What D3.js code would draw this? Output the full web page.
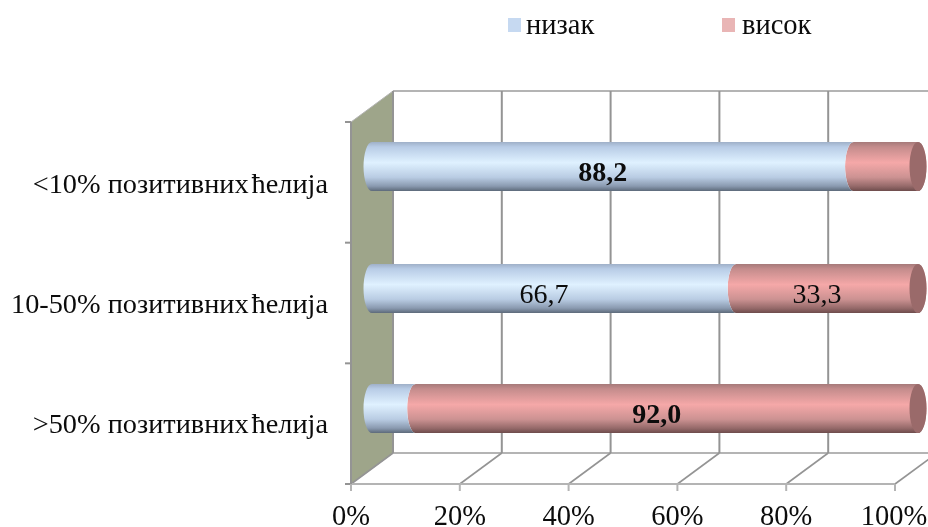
<!DOCTYPE html>
<html><head><meta charset="utf-8">
<script src="https://cdn.jsdelivr.net/npm/d3@7"></script>
<style>html,body{margin:0;padding:0;background:#fff;overflow:hidden}svg{display:block;filter:blur(0.35px)}text{font-family:"Liberation Serif",serif;fill:#0c0c0c}</style>
</head><body><svg id="c" width="928" height="527"></svg>
<script>
const categories = ["<10% позитивних ћелија","10-50% позитивних ћелија",">50% позитивних ћелија"];
const seriesNames = ["низак","висок"];
const lowValues = [88.2,66.7,8.0];
const highValues = [11.8,33.3,92.0];
const lowLabels = ["88,2","66,7",""];
const highLabels = ["","33,3","92,0"];
const boldRow = [true,false,true];
const tickValues = [0,20,40,60,80,100];
const W=928,H=527;
const svg=d3.select("#c");
const defs=svg.append("defs");
function grad(id,stops){const g=defs.append("linearGradient").attr("id",id).attr("x1",0).attr("x2",0).attr("y1",0).attr("y2",1);
 stops.forEach(s=>g.append("stop").attr("offset",s[0]).attr("stop-color",s[1]));}
grad("gLow",[[0,"#9fb0c8"],[.1,"#b8cce6"],[.42,"#dff1ff"],[.72,"#b9cce3"],[.9,"#8a9ab0"],[1,"#5d6a7a"]]);
grad("gHigh",[[0,"#a67a7a"],[.1,"#c48c8c"],[.42,"#f5a8a8"],[.72,"#cc9292"],[.9,"#966a6a"],[1,"#6e4c4c"]]);
const x0=351,x100=895,dx=42,dy=-31,yTop=122,yBot=484;
const x=d3.scaleLinear().domain([0,100]).range([x0,x100]);
const yBand=d3.scaleBand().domain(categories).range([yTop,yBot]);
const grid="#949494", gridL="#b4b4b4";
// side wall
svg.append("path").attr("d",`M${x0},${yTop}L${x0+dx},${yTop+dy}L${x0+dx},${yBot+dy}L${x0},${yBot}Z`).attr("fill","#9ea58a").attr("stroke",gridL).attr("stroke-width",1);
// back wall lines
svg.append("line").attr("x1",x0+dx).attr("x2",W).attr("y1",yTop+dy).attr("y2",yTop+dy).attr("stroke",gridL).attr("stroke-width",2);
svg.append("line").attr("x1",x0+dx).attr("x2",W).attr("y1",yBot+dy).attr("y2",yBot+dy).attr("stroke",gridL).attr("stroke-width",2);
tickValues.forEach(t=>{
 svg.append("line").attr("x1",x(t)+dx).attr("x2",x(t)+dx).attr("y1",yTop+dy).attr("y2",yBot+dy).attr("stroke",grid).attr("stroke-width",2);
 svg.append("line").attr("x1",x(t)).attr("x2",x(t)+dx).attr("y1",yBot).attr("y2",yBot+dy).attr("stroke",grid).attr("stroke-width",1.6);
});
// axes
svg.append("line").attr("x1",x0-6).attr("x2",x100).attr("y1",yBot).attr("y2",yBot).attr("stroke",gridL).attr("stroke-width",2);
svg.append("line").attr("x1",x0).attr("x2",x0).attr("y1",yTop).attr("y2",yBot+7).attr("stroke",grid).attr("stroke-width",2);
[0,1,2,3].forEach(i=>{const y=yTop+i*yBand.step();
 svg.append("line").attr("x1",x0-6).attr("x2",x0).attr("y1",y).attr("y2",y).attr("stroke",grid).attr("stroke-width",2);});
tickValues.forEach(t=>{
 svg.append("line").attr("x1",x(t)).attr("x2",x(t)).attr("y1",yBot).attr("y2",yBot+7).attr("stroke",gridL).attr("stroke-width",2);
 svg.append("text").attr("x",x(t)+ (t==100?-1:0)).attr("y",525).attr("text-anchor","middle").attr("font-size",28.5).text(t+"%");
});
// bars
const bx=d3.scaleLinear().domain([0,100]).range([372,918]);
const barH=49, rx=8.5;
const barTop=[142,264,384];
categories.forEach((c,i)=>{
 const y=barTop[i],ry=barH/2,cy=y+ry;
 const a=bx(0),b=bx(lowValues[i]),e=bx(lowValues[i]+highValues[i]);
 svg.append("path").attr("d",`M${b},${y}L${e},${y}A${rx},${ry} 0 0 1 ${e},${y+barH}L${b},${y+barH}A${rx},${ry} 0 0 1 ${b},${y}Z`).attr("fill","url(#gHigh)");
 svg.append("ellipse").attr("cx",e).attr("cy",cy).attr("rx",rx).attr("ry",ry).attr("fill","#9a6a6a");
 svg.append("path").attr("d",`M${a},${y}L${b},${y}A${rx},${ry} 0 0 0 ${b},${y+barH}L${a},${y+barH}A${rx},${ry} 0 0 1 ${a},${y}Z`).attr("fill","url(#gLow)");
 const bold=boldRow[i]?"bold":"normal";
 if(lowLabels[i]) svg.append("text").attr("x",(a+b)/2-10).attr("y",cy+14.5).attr("text-anchor","middle").attr("font-size",28).attr("font-weight",bold).text(lowLabels[i]);
 if(highLabels[i]) svg.append("text").attr("x",(b+e)/2-10).attr("y",cy+14.5).attr("text-anchor","middle").attr("font-size",28).attr("font-weight",bold).text(highLabels[i]);
 const cut=c.lastIndexOf(" ");
 const lab=svg.append("text").attr("x",328).attr("y",[193,313,433][i]).attr("text-anchor","end").attr("font-size",28.3);
 lab.append("tspan").text(c.slice(0,cut));
 lab.append("tspan").attr("dx",3).text(c.slice(cut+1));
});
// legend
const legX=[508,722],legC=["#c6d9f1","#e9b5b5"];
seriesNames.forEach((n,i)=>{
 svg.append("rect").attr("x",legX[i]).attr("y",18).attr("width",13).attr("height",14).attr("fill",legC[i]);
 svg.append("text").attr("x",legX[i]+(i?20:18)).attr("y",34).attr("font-size",28.5).text(n);
});
</script></body></html>
